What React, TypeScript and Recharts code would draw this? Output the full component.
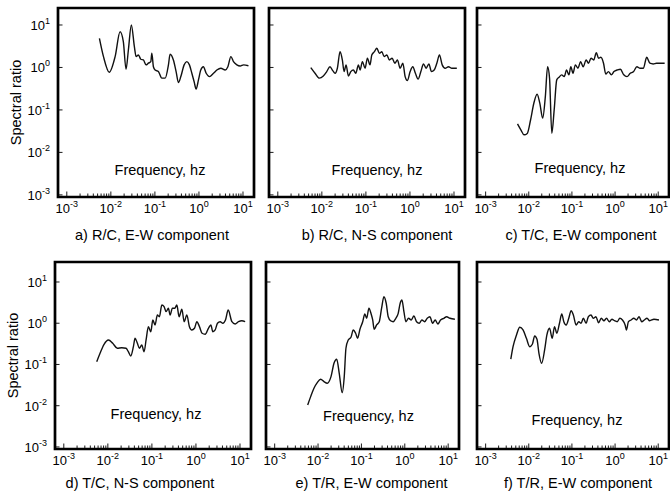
import { LineChart, Line, XAxis, YAxis, ReferenceArea } from 'recharts'

// decade ticks and their exponent labels (shared by both axes)
const decades = [0.001, 0.01, 0.1, 1, 10]
const decadeLabels = ['-3', '-2', '-1', '0', '1']
const minorTicks = [
  0.002, 0.003, 0.004, 0.005, 0.006, 0.007, 0.008, 0.009,
  0.02, 0.03, 0.04, 0.05, 0.06, 0.07, 0.08, 0.09,
  0.2, 0.3, 0.4, 0.5, 0.6, 0.7, 0.8, 0.9,
  2, 3, 4, 5, 6, 7, 8, 9,
]

const captions = [
  'a) R/C, E-W component',
  'b) R/C, N-S component',
  'c) T/C, E-W component',
  'd) T/C, N-S component',
  'e) T/R, E-W component',
  'f) T/R, E-W component',
]

// a) R/C, E-W
const freqA = [
  0.0055, 0.0068, 0.0092, 0.0125, 0.0162, 0.0192, 0.0221, 0.025, 0.0292, 0.0342,
  0.0374, 0.0422, 0.0479, 0.0548, 0.0631, 0.0711, 0.0807, 0.0851, 0.0925, 0.101,
  0.12, 0.144, 0.171, 0.203, 0.221, 0.263, 0.303, 0.342, 0.388, 0.461,
  0.531, 0.608, 0.69, 0.778, 0.863, 0.975, 1.1, 1.26, 1.46, 1.73,
  2.14, 2.55, 3.15, 3.94, 4.54, 5.31, 6.08, 7.26, 8.63, 10.3, 13.3,
]
const ratioA = [
  4.86, 1.8, 0.77, 1.8, 6.95, 4.05, 0.91, 2.58, 10.0, 3.08,
  1.8, 1.97, 1.56, 1.5, 1.15, 1.26, 1.37, 2.16, 1.04, 0.87,
  0.8, 0.56, 0.56, 1.15, 2.05, 1.5, 0.8, 0.44, 0.61, 1.15,
  1.37, 1.15, 0.73, 0.46, 0.31, 0.51, 0.87, 1.04, 0.73, 0.61,
  0.73, 0.87, 0.96, 0.87, 1.04, 1.8, 1.37, 1.15, 1.08, 1.15, 1.1,
]

// b) R/C, N-S
const freqB = [
  0.0056, 0.007, 0.00877, 0.0108, 0.0129, 0.0153, 0.0177, 0.02, 0.0225, 0.0259,
  0.0292, 0.032, 0.0355, 0.04, 0.0454, 0.052, 0.0589, 0.0676, 0.0738, 0.0832,
  0.0959, 0.108, 0.124, 0.136, 0.156, 0.177, 0.203, 0.23, 0.259, 0.299,
  0.342, 0.394, 0.454, 0.52, 0.598, 0.69, 0.778, 0.877, 1.01, 1.16,
  1.33, 1.53, 1.77, 2.03, 2.33, 2.69, 3.08, 3.55, 4.08, 4.68,
  5.4, 6.31, 7.5, 8.95, 11.6,
]
const ratioB = [
  0.99, 0.73, 0.56, 0.63, 0.8, 1.04, 0.84, 0.73, 0.96, 2.35,
  1.5, 0.8, 1.15, 0.63, 0.8, 0.87, 0.73, 1.15, 0.87, 1.37,
  0.96, 1.65, 1.15, 1.97, 2.35, 2.83, 2.16, 2.35, 1.8, 1.97,
  1.5, 1.65, 1.26, 1.5, 0.96, 1.26, 0.61, 0.49, 0.8, 1.04,
  0.73, 0.53, 0.8, 1.21, 0.96, 1.21, 0.8, 0.87, 1.26, 1.97,
  1.15, 0.96, 1.04, 0.96, 0.96,
]

// c) T/C, E-W
const freqC = [
  0.00548, 0.00655, 0.00778, 0.00924, 0.011, 0.0131, 0.0156, 0.018, 0.021, 0.0242,
  0.0273, 0.0303, 0.0342, 0.0388, 0.0445, 0.0504, 0.0577, 0.0665, 0.075, 0.0851,
  0.0944, 0.106, 0.12, 0.138, 0.159, 0.182, 0.214, 0.242, 0.277, 0.32,
  0.368, 0.415, 0.468, 0.54, 0.608, 0.7, 0.82, 0.944, 1.12, 1.33,
  1.59, 1.89, 2.25, 2.69, 3.2, 3.8, 4.54, 5.4, 6.41, 7.66,
  9.1, 10.8, 14.1,
]
const ratioC = [
  0.047, 0.034, 0.026, 0.028, 0.058, 0.144, 0.234, 0.144, 0.064, 0.206,
  1.04, 0.56, 0.028, 0.1, 0.51, 0.59, 0.67, 0.61, 0.87, 0.67,
  1.04, 0.73, 1.15, 0.96, 1.37, 1.04, 1.5, 1.26, 1.65, 1.5,
  2.23, 1.65, 1.74, 1.26, 0.7, 0.8, 0.67, 0.8, 0.87, 0.91,
  0.67, 0.61, 0.73, 0.8, 1.04, 0.96, 0.96, 1.74, 1.26, 1.21,
  1.26, 1.26, 1.26,
]

// d) T/C, N-S
const freqD = [
  0.0056, 0.00665, 0.0082, 0.0103, 0.0129, 0.0164, 0.0207, 0.0259, 0.0292, 0.0331,
  0.038, 0.0415, 0.0468, 0.052, 0.0589, 0.0665, 0.0738, 0.0832, 0.0944, 0.105,
  0.118, 0.133, 0.148, 0.168, 0.189, 0.21, 0.237, 0.259, 0.292, 0.331,
  0.368, 0.415, 0.479, 0.54, 0.621, 0.711, 0.807, 0.925, 1.05, 1.2,
  1.38, 1.62, 1.92, 2.18, 2.42, 2.73, 3.08, 3.55, 4.08, 4.68,
  5.4, 6.55, 7.78, 9.25, 11.0, 13.1,
]
const ratioD = [
  0.117, 0.187, 0.309, 0.393, 0.327, 0.247, 0.255, 0.247, 0.204, 0.161,
  0.27, 0.432, 0.327, 0.247, 0.297, 0.204, 0.393, 0.826, 0.624, 1.2,
  0.908, 1.58, 1.44, 2.77, 2.52, 1.91, 2.31, 1.58, 2.31, 2.31,
  2.77, 1.44, 2.18, 1.09, 1.58, 0.826, 0.687, 0.755, 1.09, 0.826,
  0.571, 0.54, 0.755, 0.908, 0.624, 0.687, 1.0, 1.09, 1.0, 1.2,
  2.09, 1.09, 0.96, 1.09, 1.15, 1.09,
]

// e) T/R, E-W
const freqE = [
  0.00577, 0.00676, 0.00805, 0.00959, 0.0115, 0.0137, 0.0163, 0.0199, 0.0233, 0.0269,
  0.0308, 0.0361, 0.0402, 0.044, 0.0497, 0.0574, 0.0649, 0.0736, 0.0818, 0.0925,
  0.107, 0.12, 0.132, 0.149, 0.166, 0.182, 0.197, 0.224, 0.258, 0.292,
  0.33, 0.373, 0.415, 0.471, 0.541, 0.624, 0.705, 0.783, 0.859, 0.955,
  1.06, 1.22, 1.41, 1.62, 1.87, 2.15, 2.48, 2.86, 3.29, 3.79,
  4.38, 5.02, 5.79, 6.68, 7.96, 9.2, 11.0, 14.3,
]
const ratioE = [
  0.0104, 0.0166, 0.0265, 0.0362, 0.0438, 0.0383, 0.035, 0.0506, 0.107, 0.134,
  0.0612, 0.0207, 0.0506, 0.247, 0.393, 0.457, 0.687, 0.571, 0.432, 0.713,
  1.09, 1.68, 1.32, 2.31, 1.74, 1.2, 0.713, 0.908, 1.09, 2.31,
  4.4, 3.05, 1.44, 1.15, 1.09, 1.32, 1.74, 3.05, 3.66, 1.91,
  1.09, 1.32, 1.2, 1.5, 1.09, 1.0, 1.2, 1.09, 1.32, 1.44,
  1.0, 1.2, 0.96, 1.2, 1.32, 1.44, 1.32, 1.25,
]

// f) T/R, E-W
const freqF = [
  0.00383, 0.00432, 0.00519, 0.00618, 0.00736, 0.00881, 0.0105, 0.0121, 0.0137, 0.0155,
  0.0172, 0.0199, 0.0233, 0.0263, 0.0303, 0.035, 0.0395, 0.0447, 0.0515, 0.0582,
  0.0649, 0.0736, 0.0845, 0.0959, 0.108, 0.125, 0.144, 0.163, 0.184, 0.213,
  0.24, 0.277, 0.313, 0.361, 0.415, 0.479, 0.552, 0.634, 0.733, 0.845,
  0.97, 1.12, 1.29, 1.48, 1.71, 1.83, 2.04, 2.35, 2.72, 3.12,
  3.6, 4.15, 4.76, 5.5, 6.34, 7.96, 10.4,
]
const ratioF = [
  0.134, 0.27, 0.519, 0.798, 0.687, 0.432, 0.27, 0.309, 0.491, 0.408,
  0.187, 0.107, 0.225, 0.519, 0.755, 0.432, 0.826, 0.571, 1.0, 1.68,
  1.09, 0.908, 1.32, 2.01, 1.58, 0.908, 1.09, 1.0, 1.32, 1.0,
  1.44, 1.58, 1.32, 1.44, 1.03, 1.32, 1.15, 1.32, 1.09, 1.25,
  1.15, 1.09, 1.32, 1.2, 0.908, 0.687, 1.09, 1.2, 1.32, 1.2,
  1.44, 1.09, 1.2, 1.32, 1.15, 1.25, 1.2,
]

const X_DOMAIN: [number, number] = [Math.pow(10, -3.2), Math.pow(10, 1.25)]
const TOP_Y: [number, number] = [Math.pow(10, -3.05), Math.pow(10, 1.4)]
const BOTTOM_Y: [number, number] = [Math.pow(10, -3.05), Math.pow(10, 1.485)]

const M = 4 // margin so the frame stroke is not clipped
const X_H = 50
const GUTTER = 14 // room left of a frame for the first x tick label
const FONT = '"Liberation Sans", Arial, Helvetica, sans-serif'

// frame box of every panel in page pixels, plus label nudges
const panels = [
  { caption: captions[0], freq: freqA, ratio: ratioA, left: 58, top: 8, width: 196, height: 189, yDomain: TOP_Y, labels: true, fDx: 4, fOff: 22, cDx: -4, cGap: 43 },
  { caption: captions[1], freq: freqB, ratio: ratioB, left: 269, top: 8, width: 196, height: 189, yDomain: TOP_Y, labels: false, fDx: 10, fOff: 22, cDx: 10, cGap: 43 },
  { caption: captions[2], freq: freqC, ratio: ratioC, left: 477, top: 8, width: 192, height: 189, yDomain: TOP_Y, labels: false, fDx: 7, fOff: 24, cDx: 8, cGap: 43 },
  { caption: captions[3], freq: freqD, ratio: ratioD, left: 55, top: 262, width: 196, height: 187, yDomain: BOTTOM_Y, labels: true, fDx: 3, fOff: 30, cDx: -13, cGap: 39 },
  { caption: captions[4], freq: freqE, ratio: ratioE, left: 266, top: 262, width: 193, height: 187, yDomain: BOTTOM_Y, labels: false, fDx: 6, fOff: 28, cDx: 9, cGap: 39 },
  { caption: captions[5], freq: freqF, ratio: ratioF, left: 477, top: 262, width: 192, height: 187, yDomain: BOTTOM_Y, labels: false, fDx: 4, fOff: 24, cDx: 5, cGap: 39 },
]

function Pow({ x, y, exp, anchor }: { x: number; y: number; exp: string; anchor: 'middle' | 'end' }) {
  return (
    <text x={x} y={y} textAnchor={anchor} fontSize={13} fill="#000" fontFamily={FONT}>
      10<tspan dy={-6} fontSize={9}>{exp}</tspan>
    </text>
  )
}

function XTick(props: any) {
  const { x, y, payload } = props
  const i = decades.indexOf(payload.value)
  return (
    <g>
      <line x1={x} x2={x} y1={y} y2={y - (i >= 0 ? 5.5 : 3.5)} stroke="#000" strokeWidth={0.9} />
      {i >= 0 && <Pow x={x} y={y + 16} exp={decadeLabels[i]} anchor="middle" />}
    </g>
  )
}

function YTick(props: any) {
  const { x, y, payload, showLabel, side } = props
  const i = decades.indexOf(payload.value)
  const dir = side === 'right' ? -1 : 1
  return (
    <g>
      <line x1={x} x2={x + dir * 4.5} y1={y} y2={y} stroke="#000" strokeWidth={0.9} />
      {showLabel && i >= 0 && <Pow x={x - 8} y={y + 5} exp={decadeLabels[i]} anchor="end" />}
    </g>
  )
}

function Panel({ p }: { p: (typeof panels)[number] }) {
  const data = p.freq.map((freq, i) => ({ freq, ratio: p.ratio[i] }))
  const yW = p.labels ? p.left : GUTTER
  return (
    <div style={{ position: 'absolute', left: p.left - yW, top: p.top - M }}>
      <LineChart
        width={yW + p.width + M}
        height={M + p.height + X_H}
        data={data}
        margin={{ top: M, right: M, bottom: 0, left: 0 }}
      >
        <XAxis
          dataKey="freq"
          type="number"
          scale="log"
          domain={X_DOMAIN}
          allowDataOverflow
          ticks={[...decades, ...minorTicks]}
          interval={0}
          height={X_H}
          tickSize={0}
          tickMargin={0}
          axisLine={false}
          tickLine={false}
          tick={<XTick />}
          label={{
            value: p.caption,
            position: 'insideBottom',
            offset: X_H - p.cGap,
            dx: p.cDx,
            fontSize: 14.5,
            fill: '#000',
            fontFamily: FONT,
          }}
        />
        <YAxis
          type="number"
          scale="log"
          domain={p.yDomain}
          allowDataOverflow
          ticks={decades}
          interval={0}
          width={yW}
          tickSize={0}
          tickMargin={0}
          axisLine={false}
          tickLine={false}
          tick={<YTick showLabel={p.labels} side="left" />}
          label={
            p.labels
              ? {
                  value: 'Spectral ratio',
                  angle: -90,
                  position: 'insideLeft',
                  offset: p.left - 42,
                  fontSize: 14.5,
                  fill: '#000',
                  fontFamily: FONT,
                  style: { textAnchor: 'middle' },
                }
              : undefined
          }
        />
        <YAxis
          yAxisId="r"
          orientation="right"
          type="number"
          scale="log"
          domain={p.yDomain}
          allowDataOverflow
          ticks={decades}
          interval={0}
          width={0}
          tickSize={0}
          tickMargin={0}
          axisLine={false}
          tickLine={false}
          tick={<YTick showLabel={false} side="right" />}
        />
        <Line
          dataKey="ratio"
          type="monotone"
          stroke="#111"
          strokeWidth={1.4}
          dot={false}
          isAnimationActive={false}
        />
        <ReferenceArea
          x1={X_DOMAIN[0]}
          x2={X_DOMAIN[1]}
          y1={p.yDomain[0]}
          y2={p.yDomain[1]}
          ifOverflow="visible"
          fill="none"
          fillOpacity={0}
          stroke="#000"
          strokeWidth={2.7}
          label={{
            value: 'Frequency, hz',
            position: 'insideBottom',
            offset: p.fOff,
            dx: p.fDx,
            fontSize: 14.5,
            fill: '#000',
            fontFamily: FONT,
          }}
        />
      </LineChart>
    </div>
  )
}

export default function App() {
  return (
    <div
      style={{
        position: 'absolute',
        left: 0,
        top: 0,
        width: 670,
        height: 501,
        overflow: 'hidden',
        background: '#fff',
        fontFamily: FONT,
      }}
    >
      {panels.map((p) => (
        <Panel key={p.caption} p={p} />
      ))}
    </div>
  )
}
